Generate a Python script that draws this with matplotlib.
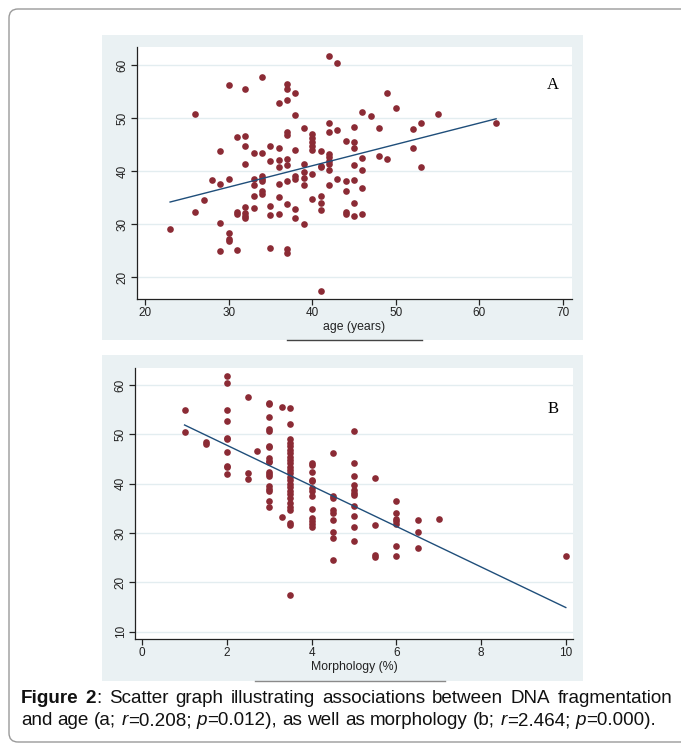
import numpy as np
import matplotlib
matplotlib.use("Agg")
import matplotlib.pyplot as plt
import matplotlib.patches as mpatches
from matplotlib.transforms import IdentityTransform

plt.rcParams['font.family'] = ['Liberation Sans', 'DejaVu Sans']

# panel A: age vs DNA fragmentation
age_a = [23, 26, 26, 27, 28, 29, 29, 29, 29, 30, 30, 30, 30, 30,
         31, 31, 31, 31, 32, 32, 32, 32, 32, 32, 32, 32,
         33, 33, 33, 33, 33, 34, 34, 34, 34, 34, 34, 34,
         35, 35, 35, 35, 35, 36, 36, 36, 36, 36, 36, 36,
         37, 37, 37, 37, 37, 37, 37, 37, 37, 37, 37,
         38, 38, 38, 38, 38, 38, 38, 39, 39, 39, 39, 39, 39,
         40, 40, 40, 40, 40, 40, 40, 41, 41, 41, 41, 41, 41, 41,
         42, 42, 42, 42, 42, 42, 42, 42, 42, 43, 43, 43,
         44, 44, 44, 44, 44, 45, 45, 45, 45, 45, 45, 45,
         46, 46, 46, 46, 46, 47, 48, 48, 49, 49, 50, 52, 52, 53, 53, 55, 62]
dfi_a = [29.1, 50.8, 32.3, 34.5, 38.4, 43.8, 37.6, 30.3, 25.0, 56.3, 38.6, 28.4, 27.3, 26.8,
         46.4, 32.4, 31.9, 25.2, 55.6, 46.7, 44.8, 41.4, 33.3, 32.1, 31.6, 31.1,
         43.5, 38.6, 37.5, 35.3, 33.1, 57.7, 43.5, 39.2, 38.6, 38.2, 36.2, 35.8,
         44.8, 41.9, 33.5, 31.7, 25.5, 52.9, 44.3, 42.1, 40.9, 37.6, 35.2, 31.9,
         56.5, 55.5, 53.5, 47.5, 46.8, 42.3, 41.1, 38.2, 33.9, 25.3, 24.5,
         54.8, 50.6, 44.0, 39.1, 38.6, 32.8, 31.1, 48.2, 41.4, 39.8, 38.7, 37.4, 30.1,
         47.0, 46.2, 45.5, 44.7, 44.0, 39.4, 34.8, 43.9, 41.0, 40.8, 35.4, 34.1, 32.7, 17.5,
         61.8, 49.1, 47.5, 43.2, 42.6, 42.0, 41.3, 40.3, 37.5, 60.4, 47.7, 38.6,
         45.8, 38.2, 36.3, 32.4, 31.9, 48.4, 45.6, 44.3, 41.1, 38.4, 34.1, 31.5,
         51.1, 42.5, 40.3, 36.9, 31.9, 50.4, 48.2, 42.8, 54.8, 42.3, 52.0, 47.9, 44.3, 49.1, 40.9, 50.8, 49.2]
fit_a = [0.4026, 24.94]  # slope, intercept

# panel B: morphology vs DNA fragmentation
morph_b = [1, 1, 1.5, 1.5] + [2] * 10 + [2.5] * 3 + [2.7] + [3] * 18 + [3.3] * 2 + \
          [3.5] * 26 + [4] * 13 + [4.5] * 9 + [5] * 11 + [5.5] * 4 + [6] * 7 + [6.5] * 3 + [7, 10]
dfi_b = [54.9, 50.5, 48.4, 48.1,
         61.9, 60.5, 54.9, 52.8, 49.3, 49.0, 46.4, 43.6, 43.3, 42.0,
         57.6, 42.1, 40.9,
         46.6,
         56.4, 56.1, 53.5, 51.1, 50.7, 47.7, 47.4, 45.3, 44.7, 44.3, 42.4, 41.9, 41.5, 39.5, 39.0, 38.5, 36.4, 35.3,
         55.6, 33.2,
         55.4, 52.0, 49.0, 48.3, 47.6, 46.9, 46.2, 45.5, 44.8, 44.1, 43.4, 42.8, 42.1, 41.4, 40.7, 40.0,
         39.3, 38.6, 37.9, 37.2, 36.0, 35.3, 34.6, 32.0, 31.7, 17.4,
         44.1, 43.7, 42.3, 40.8, 40.5, 39.2, 38.6, 37.5, 34.9, 33.0, 32.5, 31.9, 31.3,
         46.2, 37.6, 37.0, 34.7, 34.1, 32.6, 30.3, 29.0, 24.5,
         50.6, 44.1, 41.5, 39.8, 38.8, 38.2, 37.8, 35.4, 33.4, 31.2, 28.4,
         41.1, 31.7, 25.6, 25.1,
         36.4, 34.1, 32.9, 32.4, 31.9, 27.4, 25.4,
         32.6, 30.2, 26.9,
         32.9, 25.3]
fit_b = [-4.111, 56.01]

W, H = 681, 754
fig = plt.figure(figsize=(W / 100, H / 100), dpi=100)
fig.patch.set_facecolor('white')

BG = '#eaf1f3'
DOT = '#8b2b35'
LINE = '#1f4e7a'


def px(x0, y0, x1, y1):
    # pixel box (top-left origin) -> figure fraction rect
    return [x0 / W, 1 - y1 / H, (x1 - x0) / W, (y1 - y0) / H]


# outer rounded frame
fig.patches.append(mpatches.FancyBboxPatch((9, H - 742), 700, 733,
                                           boxstyle="round,pad=0,rounding_size=9",
                                           transform=IdentityTransform(), fc='none',
                                           ec='#9a9a9a', lw=1.0, zorder=-2))

for box in [(102, 35, 583, 340), (102, 355, 583, 681)]:
    r = px(*box)
    fig.patches.append(mpatches.Rectangle((r[0], r[1]), r[2], r[3], transform=fig.transFigure,
                                          fc=BG, ec='none', zorder=-1))

# odd little rules under the axis titles
fig.add_artist(plt.Line2D([287 / W, 422 / W], [1 - 340 / H] * 2, color='#444444', lw=1.0))
fig.add_artist(plt.Line2D([255 / W, 445 / W], [1 - 681 / H] * 2, color='#8a8a8a', lw=1.0))


def style_ax(ax, xlim, ylim, xticks, yticks, xlabel, tag):
    ax.set_facecolor('white')
    ax.set_xlim(xlim)
    ax.set_ylim(ylim)
    ax.set_xticks(xticks)
    ax.set_yticks(yticks)
    for s in ['top', 'right']:
        ax.spines[s].set_visible(False)
    for s in ['left', 'bottom']:
        ax.spines[s].set_linewidth(0.9)
        ax.spines[s].set_color('#222222')
    ax.tick_params(direction='out', length=4, width=0.9, labelsize=8.5, colors='#222222', pad=2)
    for lab in ax.get_yticklabels():
        lab.set_rotation(90)
        lab.set_va('center')
    ax.grid(axis='y', color='#e3edf0', lw=1.0)
    ax.set_axisbelow(True)
    ax.set_xlabel(xlabel, fontsize=8.8, labelpad=1, color='#222222')
    ax.text(0.955, 0.85, tag, transform=ax.transAxes, fontsize=12,
            family=['Liberation Serif', 'DejaVu Serif'], ha='center', va='center')


ax1 = fig.add_axes(px(137, 47, 572, 299))
ax1.plot(age_a, dfi_a, 'o', ms=4.8, color=DOT, mec='none', zorder=3)
xa = np.array([min(age_a), max(age_a)])
ax1.plot(xa, fit_a[0] * xa + fit_a[1], color=LINE, lw=1.0, zorder=4)
style_ax(ax1, (19.04, 71.08), (15.9, 63.45), range(20, 71, 10), range(20, 61, 10), 'age (years)', 'A')

ax2 = fig.add_axes(px(135, 368, 573, 639))
ax2.plot(morph_b, dfi_b, 'o', ms=4.8, color=DOT, mec='none', zorder=3)
xb = np.array([min(morph_b), max(morph_b)])
ax2.plot(xb, fit_b[0] * xb + fit_b[1], color=LINE, lw=1.0, zorder=4)
style_ax(ax2, (-0.17, 10.17), (8.52, 63.45), range(0, 11, 2), range(10, 61, 10), 'Morphology (%)', 'B')

# caption, set word by word so line one can be justified
renderer = fig.canvas.get_renderer()
CAP = 13.6


def seg_text(x, y, s, weight, style):
    return fig.text(x / W, 1 - y / H, s, fontsize=CAP, fontweight=weight, fontstyle=style,
                    va='baseline', ha='left', color='#111111')


def caption_line(words, y, x0, x1=None):
    widths = []
    for w in words:
        tot = 0
        for s, wt, st in w:
            t = seg_text(0, y, s, wt, st)
            tot += t.get_window_extent(renderer).width
            t.remove()
        widths.append(tot)
    sp = seg_text(0, y, 'a a', 'normal', 'normal')
    sp2 = seg_text(0, y, 'aa', 'normal', 'normal')
    space = sp.get_window_extent(renderer).width - sp2.get_window_extent(renderer).width
    sp.remove()
    sp2.remove()
    if x1 is not None:
        space = (x1 - x0 - sum(widths)) / (len(words) - 1)
    x = x0
    for w, wd in zip(words, widths):
        xx = x
        for s, wt, st in w:
            t = seg_text(xx, y, s, wt, st)
            xx += t.get_window_extent(renderer).width
        x += wd + space


def plain(s):
    return [(s, 'normal', 'normal')]


line1 = [[('Figure', 'bold', 'normal')], [('2', 'bold', 'normal'), (':', 'normal', 'normal')]] + \
        [plain(w) for w in 'Scatter graph illustrating associations between DNA fragmentation'.split()]
line2 = [plain('and'), plain('age'), plain('(a;'),
         [('r', 'normal', 'italic'), ('=0.208;', 'normal', 'normal')],
         [('p', 'normal', 'italic'), ('=0.012),', 'normal', 'normal')],
         plain('as'), plain('well'), plain('as'), plain('morphology'), plain('(b;'),
         [('r', 'normal', 'italic'), ('=2.464;', 'normal', 'normal')],
         [('p', 'normal', 'italic'), ('=0.000).', 'normal', 'normal')]]
caption_line(line1, 703, 21, 672)
caption_line(line2, 725, 21)

fig.savefig('out.png', dpi=100)
